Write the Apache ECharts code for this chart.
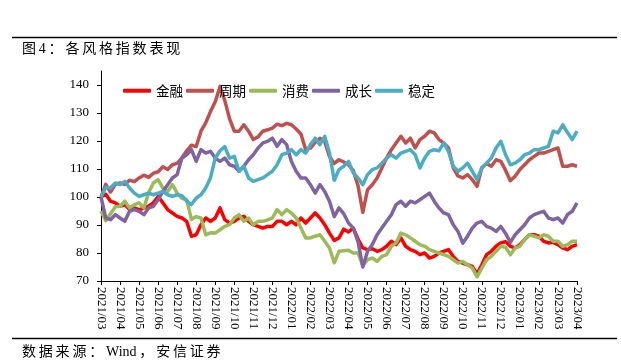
<!DOCTYPE html>
<html>
<head>
<meta charset="utf-8">
<script src="https://cdn.jsdelivr.net/npm/echarts@6/dist/echarts.min.js"></script>
<style>
  html, body { margin: 0; padding: 0; background: #fff; }
  #chart { width: 621px; height: 364px; }
</style>
</head>
<body>
<div id="chart"></div>
<script>
// month tick labels, one per month from 2021/03 to 2023/04
const monthLabels = [
  '2021/03', '2021/04', '2021/05', '2021/06', '2021/07', '2021/08', '2021/09', '2021/10',
  '2021/11', '2021/12', '2022/01', '2022/02', '2022/03', '2022/04', '2022/05', '2022/06',
  '2022/07', '2022/08', '2022/09', '2022/10', '2022/11', '2022/12', '2023/01', '2023/02',
  '2023/03', '2023/04'
];

const step = 0.25;

const finance = [
  100, 101, 98.5, 97.9, 96.7, 97.3, 95.5, 96.1, 95.5, 96, 96.7, 97.9,
  100.2, 97.9, 95.5, 94.3, 93.1, 92.5, 91.3, 86, 86.5, 90.1, 92.5, 91.3,
  92.5, 96.1, 91.9, 90.7, 91.3, 92.5, 93.1, 91.3, 90.1, 89.5, 88.9, 89.5,
  89.5, 91.3, 91.3, 90.1, 91.3, 90.1, 92.5, 90.7, 92.5, 94.3, 92.5, 90.1,
  87.1, 84.5, 85.4, 88.5, 87.5, 88.9, 85, 81.8, 81.2, 81.5, 80.6, 81.2,
  82.4, 84.2, 83, 85.4, 82.4, 81.2, 80.6, 79.4, 80, 78.2, 78.8, 80,
  80.6, 81.2, 78.8, 77, 76.4, 75.8, 75.2, 72.5, 75.8, 79.4, 80.6, 82.4,
  83.6, 84, 82.4, 81.8, 83, 84.8, 86.5, 86.5, 86, 84.2, 83.6, 83.8,
  83, 81.8, 81.2, 82.4, 83
];

const cyclical = [
  100, 104.5, 101.8, 104.5, 105, 104.5, 106, 105.5, 106.8, 107.8, 107, 108.5,
  109, 110.8, 109.8, 111.5, 112, 114, 116.5, 118.5, 118, 123.5, 126.5, 130.5,
  134, 139.5, 134.5, 128, 123.5, 123.5, 125.8, 123.5, 120.5, 121.5, 123.5, 124,
  124.6, 126, 125.5, 126.3, 125.8, 124.3, 122.5, 117, 117.5, 119.5, 121, 119.8,
  114.5, 112, 113.3, 112.5, 111.5, 109.5, 104, 94.5, 102.6, 104.4, 106.8, 110.4,
  113.9, 116.9, 119.3, 121.7, 119.3, 121, 117.5, 120.5, 121.7, 123.5, 122.9, 120.5,
  119.3, 117.5, 110.4, 107.5, 106.8, 108, 106.2, 103.8, 110.4, 112, 111, 113.3,
  112.7, 109.5, 105.8, 107.4, 109.8, 111.5, 113.3, 114.5, 115.7, 115.7, 116.3, 116.9,
  117.5, 111, 111, 111.5, 111
];

const consumer = [
  95, 91.5, 94, 96.5, 96.7, 98.5, 96.1, 97.3, 97.9, 96.1, 101.5, 105,
  106.2, 103.2, 102, 104.4, 101.4, 99.5, 99, 92, 93, 92.5, 86.5, 87.2,
  87.1, 88.3, 89.5, 90.1, 92.5, 93.7, 91.3, 92.5, 90.1, 91.3, 91.3, 91.8,
  92.5, 95.5, 93.7, 95.5, 94.3, 92.5, 88.9, 85.4, 85.4, 86, 86.5, 84.2,
  81.8, 76.5, 80.6, 80.8, 81, 80, 80, 75.5, 77.6, 78.2, 77, 78.8,
  79.4, 82.4, 83.6, 87.1, 86.5, 85.4, 84.2, 83, 82.4, 81.2, 80.6, 80,
  79.4, 78.8, 77.6, 76.4, 77, 75.8, 74.6, 71.5, 74.6, 77.6, 78.8, 80.6,
  82.4, 82, 79.4, 81.8, 82.4, 84.8, 86.5, 86, 85.4, 86.5, 86, 84.2,
  84.2, 82.4, 83, 84.2, 84.2
];

const growth = [
  100, 92.5, 91.9, 93.7, 92.5, 91.3, 94.9, 95.5, 94.9, 93.7, 96.1, 96.7,
  99, 102, 104.4, 106.8, 108, 113.9, 115.1, 116.9, 112.7, 116.9, 115.7, 116.3,
  113.9, 112.7, 113.9, 111.5, 111, 109.2, 111, 113.3, 115.1, 117.5, 119.3, 119.9,
  121, 118.1, 120.5, 118.7, 112.7, 109.2, 106.8, 106.8, 104.4, 101.4, 104.4, 102,
  98.5, 93, 96.1, 94, 90.7, 88.9, 84, 75, 80.6, 83, 86.5, 88.9,
  91.3, 93.7, 97.3, 98.5, 96.7, 98.5, 97.9, 99, 100.2, 101.4, 98.5, 96.1,
  94.3, 93.7, 90.1, 87.7, 83.5, 86, 88.9, 90.7, 91.3, 89.5, 88.9, 87.7,
  89.5, 87, 83.8, 86.5, 88.3, 90.1, 92.5, 93.7, 94.3, 94.9, 92.5, 91.9,
  92.5, 90.7, 93.7, 94.9, 97.9
];

const stable = [
  100, 103.5, 103.2, 105, 104.4, 105.6, 103.2, 101.4, 100.2, 100.8, 101.4, 100.8,
  101.4, 102, 100.8, 100.2, 100.8, 100.5, 98.5, 97.3, 99.6, 100.8, 103.2, 106.8,
  113.9, 116.5, 118, 113.9, 114.5, 109.2, 111, 106.8, 105.6, 106.2, 106.8, 108,
  109.2, 111.5, 115.1, 115.7, 116.9, 115.1, 116.9, 115.7, 118.7, 121, 118.7, 121.7,
  115.7, 106, 109.8, 111, 112.7, 108.6, 106.8, 104.4, 108, 109.8, 110.4, 112.1,
  113.9, 115.1, 113.9, 115.7, 116.3, 116.9, 115.1, 110.4, 113.9, 116.3, 116.9, 116.5,
  119.3, 116.3, 111, 109.2, 110.4, 112.1, 109.2, 106.2, 110.4, 112.1, 113.9, 117.5,
  119.9, 115.1, 111.5, 112.1, 113.3, 115.1, 115.7, 116.9, 116.9, 117.5, 118.1, 123.5,
  122.9, 125.8, 123, 120.5, 123.5
];

const seriesDefs = [
  { name: '金融', color: '#FF0000', values: finance },
  { name: '周期', color: '#C0504D', values: cyclical },
  { name: '消费', color: '#9BBB59', values: consumer },
  { name: '成长', color: '#8064A2', values: growth },
  { name: '稳定', color: '#4BACC6', values: stable }
];

const yTicks = [70, 80, 90, 100, 110, 120, 130, 140];

const titleText = '图4：各风格指数表现';
const sourceText = '数据来源：Wind，安信证券';

const serif = '"Liberation Serif", "Noto Sans CJK SC", serif';

// the report spaces its CJK caption characters out a little, latin words stay tight
function spaced(str) {
  const chars = Array.from(str);
  let out = chars[0];
  for (let i = 1; i < chars.length; i++) {
    const asciiPair = /[A-Za-z]/.test(chars[i - 1]) && /[A-Za-z]/.test(chars[i]);
    out += (asciiPair ? '' : '\u2009') + chars[i];
  }
  return out;
}

const chart = echarts.init(document.getElementById('chart'), null, { renderer: 'canvas' });

const option = {
  backgroundColor: '#fff',
  animation: false,
  grid: { left: 101, right: 44, top: 71, bottom: 83, containLabel: false },
  legend: {
    left: 118,
    top: 79,
    itemWidth: 28,
    itemHeight: 4,
    itemGap: 3,
    icon: 'roundRect',
    textStyle: { fontFamily: '"Noto Sans CJK SC", sans-serif', fontSize: 13.5, color: '#000' },
    data: seriesDefs.map((s) => s.name)
  },
  xAxis: {
    type: 'value',
    min: 0,
    max: monthLabels.length - 1,
    interval: 1,
    axisLine: { lineStyle: { color: '#000', width: 1 } },
    axisTick: { show: true, length: 4, lineStyle: { color: '#000' } },
    axisLabel: {
      rotate: -90,
      margin: 6,
      color: '#000',
      fontFamily: serif,
      fontSize: 13,
      formatter: (v) => monthLabels[Math.round(v)] || ''
    },
    splitLine: { show: false }
  },
  yAxis: {
    type: 'value',
    min: 70,
    max: 145,
    interval: 10,
    axisLine: { show: true, lineStyle: { color: '#000', width: 1 } },
    axisTick: { show: true, length: 4, lineStyle: { color: '#000' }, customValues: yTicks },
    axisLabel: { color: '#000', fontFamily: serif, fontSize: 13, margin: 12, customValues: yTicks },
    splitLine: { show: false }
  },
  series: seriesDefs.map((s) => ({
    name: s.name,
    type: 'line',
    data: s.values.map((v, i) => [i * step, v]),
    showSymbol: false,
    symbol: 'none',
    smooth: false,
    color: s.color,
    lineStyle: { width: 3.5, color: s.color, join: 'round' }
  })),
  graphic: [
    { type: 'line', shape: { x1: 12, y1: 37.5, x2: 617, y2: 37.5 }, style: { stroke: '#000', lineWidth: 1.5 } },
    { type: 'line', shape: { x1: 12, y1: 338.5, x2: 617, y2: 338.5 }, style: { stroke: '#000', lineWidth: 1.5 } },
    {
      type: 'text', left: 22, top: 42,
      style: { text: spaced(titleText), font: '14px ' + serif, fill: '#000' }
    },
    {
      type: 'text', left: 22, top: 345,
      style: { text: spaced(sourceText), font: '14px ' + serif, fill: '#000' }
    }
  ]
};

chart.setOption(option);
</script>
</body>
</html>
